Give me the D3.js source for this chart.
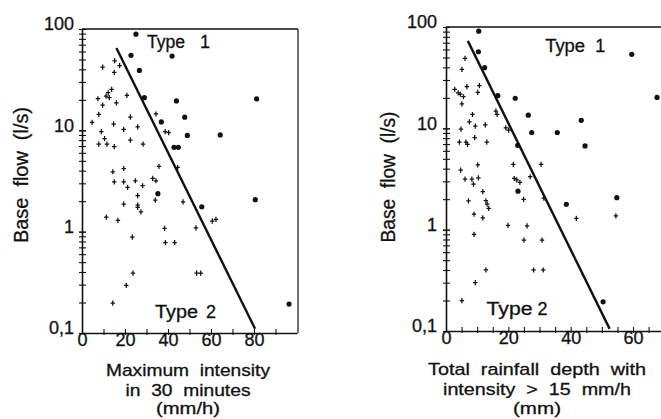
<!DOCTYPE html>
<html><head><meta charset="utf-8">
<script src="https://cdn.jsdelivr.net/npm/d3@7"></script>
<style>
body{margin:0;background:#fff}
text{font-family:"Liberation Sans",Arial,Helvetica,sans-serif;fill:#111;white-space:pre;stroke:#111;stroke-width:0.3px}
</style>
</head><body>
<svg id="chart" width="661" height="419"></svg>
<script>
// ---------- data ----------
// Left panel: x = maximum intensity in 30 minutes (mm/h), y = base flow (l/s)
const leftType1 = [[25.1,89],[22.8,55],[41.9,54],[26.7,39],[29.0,21],[43.9,19.5],[36.9,12.1],[47.8,13.5],
  [49.0,8.9],[42.8,6.8],[44.8,6.8],[35.3,2.37],[81.2,20.4],[64.3,9.0],[55.7,1.76],[80.6,2.07],[96.3,0.193]];
const leftType2 = [[9.6,42],[15.2,48.6],[17.5,43.5],[15.0,37.3],[13.8,25.4],[12.2,23.5],[11.2,21.8],[12.7,21.0],
  [7.4,20.5],[9.6,17.7],[16.0,18.7],[20.9,22.1],[7.8,14.4],[4.7,12.0],[14.7,11.5],[22.5,13.5],[19.4,10.2],
  [25.9,10.8],[34.4,14.5],[9.0,9.7],[10.5,8.3],[7.8,7.3],[11.6,7.3],[15.0,6.9],[22.5,8.0],[28.4,7.3],
  [38.7,9.7],[40.3,9.5],[14.3,3.9],[19.4,4.2],[35.8,4.4],[44.5,4.3],[32.9,3.36],[15.0,3.1],[19.4,3.1],
  [21.2,2.74],[24.8,3.18],[28.2,2.84],[34.4,3.18],[25.9,2.27],[19.4,1.87],[25.9,1.83],[25.9,1.74],
  [27.4,1.57],[34.1,2.05],[47.0,1.97],[11.3,1.39],[16.7,1.29],[38.4,1.08],[23.4,0.885],[38.8,0.78],
  [43.1,0.78],[23.7,0.39],[20.6,0.295],[14.3,0.197],[53.0,1.09],[60.6,1.27],[62.3,1.32],[53.3,0.39],[55.2,0.39]];
const leftLine = [[16,65],[80.5,0.11]];

// Right panel: x = total rainfall depth with intensity > 15 mm/h (mm), y = base flow (l/s)
const rightType1 = [[10.5,91],[10.4,57],[12.4,39.7],[16.6,21],[22.2,19.8],[26.4,13.5],[27.5,9.1],[23.0,6.8],
  [23.1,2.4],[59.6,53.8],[67.7,20.2],[35.7,9.1],[43.4,12.0],[44.6,6.7],[38.6,1.78],[54.8,2.07],[50.4,0.194]];
const rightType2 = [[6.1,49],[5.1,38.2],[2.8,24.3],[3.9,22.4],[4.6,21.7],[5.6,20.5],[5.1,17.4],[6.7,25.8],
  [10.7,26.4],[10.2,22.6],[8.5,13.7],[7.5,11.6],[9.4,10.5],[12.6,10.8],[16.0,14.8],[16.4,13.7],[4.8,9.8],
  [9.2,8.1],[4.3,7.3],[6.4,7.3],[6.9,6.95],[13.1,7.3],[19.2,10.1],[20.1,9.6],[10.2,4.35],[4.7,3.87],
  [21.6,4.4],[30.5,4.4],[6.1,3.16],[8.3,3.16],[8.8,2.82],[10.4,3.25],[21.9,3.2],[22.7,3.1],[23.7,2.93],
  [27.0,3.33],[11.8,2.37],[7.2,1.92],[12.8,1.93],[13.2,1.79],[13.7,1.62],[9.0,1.42],[11.8,1.31],[24.9,1.99],
  [31.4,2.05],[19.9,1.1],[26.0,1.09],[9.0,0.9],[25.0,0.79],[30.8,0.79],[12.8,0.40],[28.1,0.40],[31.2,0.40],
  [9.4,0.30],[5.1,0.199],[41.8,1.29],[54.5,1.37]];
const rightLine = [[7,73],[52.5,0.105]];

const yTickValues = [0.1,1,10,100];
const yTickLabels = ["0,1","1","10","100"];
const leftXTicks = [0,20,40,60,80];
const leftXMinor = [10,20,30,40,50,60,70,80,90];
const rightXTicks = [0,20,40,60];
const rightXMinor = [5,10,15,20,25,30,35,40,45,50,55,60,65];
const yTitle = "Base  flow  (l/s)";
const leftXTitle = ["Maximum  intensity","in  30  minutes","(mm/h)"];
const rightXTitle = ["Total  rainfall  depth  with","intensity  >  15  mm/h","(mm)"];
const typeLabels = ["Type","1","2"];

// ---------- layout ----------
const svg = d3.select("#chart");
const panels = [
  {x0:82, x1:297, xDom:[0,100], yTop:29, yBot:333, t1:leftType1, t2:leftType2, line:leftLine,
   xt:leftXTicks, xm:leftXMinor, box:true, labPad:8,
   yTitleX:28, yTitleY:175, yTitleLen:136,
   xTitle:leftXTitle, xTitleCx:188, xTitleY:[376,396,414], xTitleLen:[164,125,64],
   type1:{x:30.2,y:65,w:38,dx:53}, type2:{x:34,y:0.14,w:43,dx:51}},
  {x0:446, x1:664.2, xDom:[0,70], yTop:27, yBot:331, t1:rightType1, t2:rightType2, line:rightLine,
   xt:rightXTicks, xm:rightXMinor, box:false, labPad:9,
   yTitleX:395, yTitleY:177, yTitleLen:131,
   xTitle:rightXTitle, xTitleCx:537, xTitleY:[375,395,414], xTitleLen:[218,188,48],
   type1:{x:31.8,y:57,w:40,dx:50}, type2:{x:13,y:0.1436,w:46,dx:51}}
];

// minor log ticks
const yMinor = [];
[0.1,1,10].forEach(d => { for (let k=1;k<=10;k++) yMinor.push(+(d*k).toPrecision(3)); });

panels.forEach(p => {
  const x = d3.scaleLinear().domain(p.xDom).range([p.x0, p.x1]);
  const y = d3.scaleLog().domain([0.1,100]).range([p.yBot, p.yTop]);
  const g = svg.append("g");

  // frame (top + right)
  g.append("line").attr("x1",p.x0).attr("x2",Math.min(p.x1+1,661)).attr("y1",p.yTop).attr("y2",p.yTop)
    .attr("stroke","#111").attr("stroke-width",1.3);
  if (p.box) g.append("line").attr("x1",p.x1+1).attr("x2",p.x1+1).attr("y1",p.yTop).attr("y2",p.yBot)
    .attr("stroke","#111").attr("stroke-width",1.2);

  // y axis with crossing log ticks
  const ya = g.append("g").attr("transform",`translate(${p.x0},0)`)
    .call(d3.axisLeft(y).tickValues(yMinor).tickFormat("").tickSize(3).tickSizeOuter(0));
  ya.select(".domain").attr("stroke","#111").attr("stroke-width",1.6);
  ya.selectAll(".tick line").attr("x1",4).attr("x2",-3).attr("stroke","#111").attr("stroke-width",1.1);
  const yl = g.append("g").attr("transform",`translate(${p.x0},0)`)
    .call(d3.axisLeft(y).tickValues(yTickValues).tickFormat((d,i)=>yTickLabels[i]).tickSize(0).tickPadding(p.labPad));
  yl.select(".domain").remove();
  yl.selectAll("text").attr("dy","0.05em").style("font-size","18px").attr("fill","#111")
    .style("font-family","'Liberation Sans',Arial,sans-serif");

  // x axis with crossing ticks
  const xa = g.append("g").attr("transform",`translate(0,${p.yBot})`)
    .call(d3.axisBottom(x).tickValues(p.xm).tickFormat("").tickSize(3).tickSizeOuter(0));
  xa.select(".domain").attr("stroke","#111").attr("stroke-width",1.6);
  xa.selectAll(".tick line").attr("y1",-4).attr("y2",2).attr("stroke","#111").attr("stroke-width",1.1);
  const xl = g.append("g").attr("transform",`translate(0,${p.yBot})`)
    .call(d3.axisBottom(x).tickValues(p.xt).tickSize(0).tickPadding(0));
  xl.select(".domain").remove();
  xl.selectAll("text").attr("y",0).attr("dy","0.7em").style("font-size","18px").attr("fill","#111")
    .style("font-family","'Liberation Sans',Arial,sans-serif");

  // regression line
  g.append("path").datum(p.line)
    .attr("d", d3.line().x(d=>x(d[0])).y(d=>y(d[1])))
    .attr("stroke","#111").attr("stroke-width",2.4).attr("fill","none");

  // Type 2 points (crosses)
  g.append("g").selectAll("path").data(p.t2).join("path")
    .attr("transform", d=>`translate(${x(d[0])},${y(d[1])})`)
    .attr("d","M-2.2,0H2.2M0,-2.6V2.6").attr("stroke","#111").attr("stroke-width",1.25);
  // Type 1 points (dots)
  g.append("g").selectAll("circle").data(p.t1).join("circle")
    .attr("cx", d=>x(d[0])).attr("cy", d=>y(d[1])).attr("r",2.6).attr("fill","#111");

  // Type labels
  [[p.type1,typeLabels[1]],[p.type2,typeLabels[2]]].forEach(([t,n]) => {
    g.append("text").attr("x",x(t.x)).attr("y",y(t.y)).style("font-size","18px")
      .attr("textLength",t.w).attr("lengthAdjust","spacingAndGlyphs").text(typeLabels[0]);
    g.append("text").attr("x",x(t.x)+t.dx).attr("y",y(t.y)).style("font-size","18px").text(n);
  });

  // y title
  g.append("text").attr("transform",`translate(${p.yTitleX},${p.yTitleY}) rotate(-90)`)
    .attr("text-anchor","middle").style("font-size","20px")
    .attr("textLength",p.yTitleLen).attr("lengthAdjust","spacingAndGlyphs").text(yTitle);

  // x title
  p.xTitle.forEach((s,i) => {
    const t = g.append("text").attr("x",p.xTitleCx).attr("y",p.xTitleY[i]).attr("text-anchor","middle")
      .style("font-size","17px").text(s);
    if (p.xTitleLen[i]) t.attr("textLength",p.xTitleLen[i]).attr("lengthAdjust","spacingAndGlyphs");
  });
});
</script>
</body></html>
